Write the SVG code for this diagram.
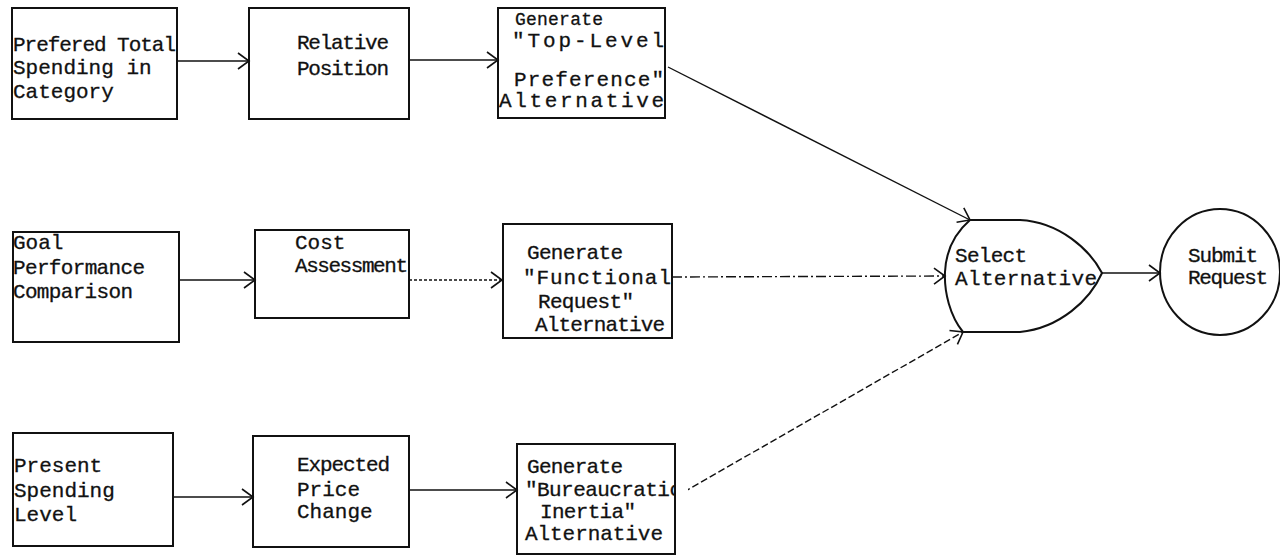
<svg xmlns="http://www.w3.org/2000/svg" width="1280" height="556" viewBox="0 0 1280 556">
<style>
.box{fill:none;stroke:#111;stroke-width:2}
.t{font-family:"Liberation Mono","Courier New",monospace;font-size:21px;fill:#111;stroke:#111;stroke-width:0.3}
.s{font-size:18px}
.c{fill:none;stroke:#111;stroke-width:1.4}
.dot{stroke-dasharray:3 2}
.dd{stroke-dasharray:10 3 2 3}
.da{stroke-dasharray:7 3}
</style>
<defs>
<marker id="ah" markerUnits="userSpaceOnUse" markerWidth="14" markerHeight="18" refX="12" refY="9" orient="auto">
<path d="M1,1 L12,9 L1,17" fill="none" stroke="#111" stroke-width="1.6"/>
</marker>
</defs>
<rect width="1280" height="556" fill="#fff"/>
<g id="connectors">
<line class="c" x1="177" y1="61" x2="249" y2="61" marker-end="url(#ah)"/>
<line class="c" x1="409" y1="60" x2="498" y2="60" marker-end="url(#ah)"/>
<line class="c" x1="668" y1="67" x2="970" y2="220" marker-end="url(#ah)"/>
<line class="c" x1="179" y1="280" x2="255" y2="280" marker-end="url(#ah)"/>
<line class="c dot" x1="409" y1="280" x2="502" y2="280" marker-end="url(#ah)"/>
<line class="c dd" x1="672" y1="277" x2="945" y2="276" marker-end="url(#ah)"/>
<line class="c" x1="173" y1="497" x2="253" y2="497" marker-end="url(#ah)"/>
<line class="c" x1="409" y1="490" x2="517" y2="490" marker-end="url(#ah)"/>
<line class="c da" x1="675" y1="497" x2="963" y2="332" marker-end="url(#ah)"/>
<line class="c" x1="1102" y1="273" x2="1160" y2="273" marker-end="url(#ah)"/>
</g>
<g id="n1">
<rect class="box" x="12" y="8" width="165" height="111"/>
<text class="t"><tspan x="13" y="51" textLength="163">Prefered Total</tspan><tspan x="13" y="74">Spending in</tspan><tspan x="13" y="98">Category</tspan></text>
</g>
<g id="n2">
<rect class="box" x="249" y="8" width="160" height="111"/>
<text class="t"><tspan x="297" y="49" textLength="92">Relative</tspan><tspan x="297" y="75" textLength="92">Position</tspan></text>
</g>
<g id="n3">
<rect class="box" x="498" y="8" width="167" height="110"/>
<text class="t s" x="515" y="25" textLength="88">Generate</text>
<text class="t"><tspan x="512" y="47" textLength="152">"Top-Level</tspan><tspan x="514" y="86" textLength="150">Preference"</tspan><tspan x="499" y="107" textLength="165">Alternative</tspan></text>
</g>
<g id="n4">
<rect class="box" x="13" y="232" width="166" height="110"/>
<text class="t"><tspan x="13" y="249">Goal</tspan><tspan x="13" y="274" textLength="132">Performance</tspan><tspan x="13" y="298" textLength="120">Comparison</tspan></text>
</g>
<g id="n5">
<rect class="box" x="255" y="230" width="154" height="88"/>
<text class="t"><tspan x="295" y="249">Cost</tspan><tspan x="295" y="272" textLength="113">Assessment</tspan></text>
</g>
<g id="n6">
<rect class="box" x="503" y="224" width="169" height="114"/>
<text class="t"><tspan x="527" y="259" textLength="96">Generate</tspan><tspan x="523" y="284" textLength="148">"Functional</tspan><tspan x="538" y="308" textLength="96">Request"</tspan><tspan x="535" y="331" textLength="130">Alternative</tspan></text>
</g>
<g id="n7">
<rect class="box" x="13" y="433" width="160" height="113"/>
<text class="t"><tspan x="14" y="472">Present</tspan><tspan x="14" y="497">Spending</tspan><tspan x="14" y="521">Level</tspan></text>
</g>
<g id="n8">
<rect class="box" x="253" y="436" width="156" height="111"/>
<text class="t"><tspan x="297" y="471" textLength="93">Expected</tspan><tspan x="297" y="496">Price</tspan><tspan x="297" y="518">Change</tspan></text>
</g>
<g id="n9">
<text class="t"><tspan x="527" y="473" textLength="96">Generate</tspan><tspan x="525" y="496" textLength="157">"Bureaucratic</tspan><tspan x="540" y="518" textLength="96">Inertia"</tspan><tspan x="525" y="540" textLength="138">Alternative</tspan></text>
<rect x="676" y="470" width="12" height="40" fill="#fff"/>
<rect class="box" x="517" y="444" width="158" height="110"/>
</g>
<g id="n10">
<path class="box" d="M970,220 L1020,220 C1060,222 1090,250 1102,273 C1090,300 1060,328 1020,332 L963,332 C950,316 944,292 945,272 C946,250 955,233 970,220 Z"/>
<text class="t"><tspan x="955" y="262" textLength="72">Select</tspan><tspan x="955" y="285" textLength="142">Alternative</tspan></text>
</g>
<g id="n11">
<ellipse class="box" cx="1220" cy="272" rx="60" ry="63"/>
<text class="t"><tspan x="1188" y="262" textLength="70">Submit</tspan><tspan x="1188" y="284" textLength="80">Request</tspan></text>
</g>
</svg>
